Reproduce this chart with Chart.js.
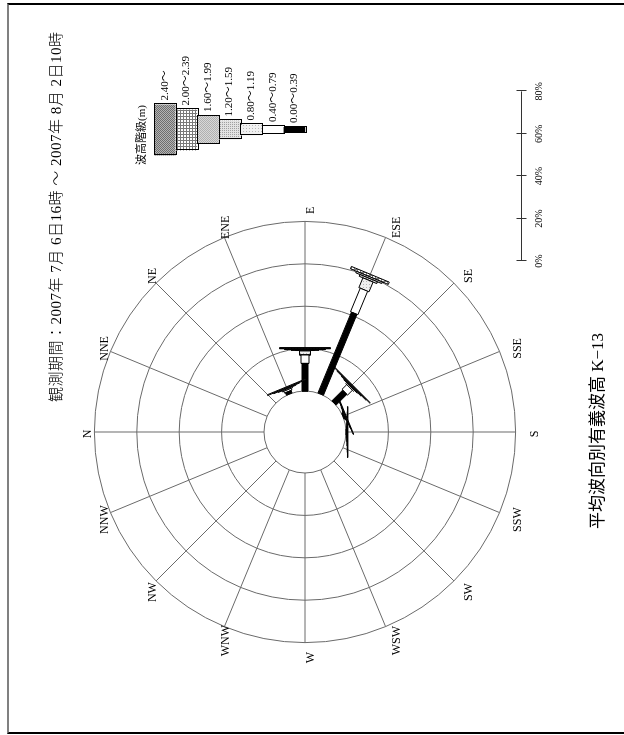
<!DOCTYPE html>
<html>
<head>
<meta charset="utf-8">
<script src="https://cdn.jsdelivr.net/npm/chart.js@4/dist/chart.umd.min.js"></script>
<style>
  html, body { margin: 0; padding: 0; background: #fff; width: 624px; height: 735px; overflow: hidden; }
  #frame { position: absolute; left: 7px; top: 3px; width: 700px; height: 731px; box-sizing: border-box;
           border-top: 2px solid #000; border-bottom: 2px solid #000; border-left: 2px solid #808080; }
  /* the sheet is laid out landscape and turned a quarter turn */
  #sheet { position: absolute; left: 0; top: 0; width: 735px; height: 624px;
           transform-origin: 0 0; transform: translateY(735px) rotate(-90deg); }
  #sheet canvas { position: absolute; left: 0; top: 0; }
  .t { position: absolute; white-space: nowrap; color: #000;
       font-family: "Liberation Serif", "Noto Sans CJK JP", serif; }
  #period { left: 333px; top: 44px; font-size: 15px; font-weight: 300; letter-spacing: 0.5px; }
  #caption { left: 0; width: 608px; text-align: center; top: 583px; font-size: 17px; }
</style>
</head>
<body>
<div id="frame"></div>
<div id="sheet">
  <canvas id="rose" width="735" height="624"></canvas>
  <div class="t" id="period">観測期間：2007年 7月 6日16時 ～ 2007年 8月 2日10時</div>
  <div class="t" id="caption">平均波向別有義波高 K−13</div>
</div>
<script>
// wave directions, clockwise from north
const directions = ['N','NNE','NE','ENE','E','ESE','SE','SSE','S','SSW','SW','WSW','W','WNW','NW','NNW'];
// significant wave height classes (m)
const heightClasses = ['0.00～0.39','0.40～0.79','0.80～1.19','1.20～1.59','1.60～1.99','2.00～2.39','2.40～'];
// occurrence frequency (%) per direction for each height class
const h000_039 = [0, 0, 0, 1.3, 13.0, 41.3, 7.2, 0.4, 0.2, 0, 0, 0, 0, 0, 0, 0];
const h040_079 = [0, 0, 0, 0.9,  4.0, 12.0, 3.2, 0.3, 0.1, 0, 0, 0, 0, 0, 0, 0];
const h080_119 = [0, 0, 0, 0.5,  1.9,  5.0, 0.6, 0.2, 0.1, 0, 0, 0, 0, 0, 0, 0];
const h120_159 = [0, 0, 0, 0.3,  0.4,  0.9, 0.3, 0.2, 0.1, 0, 0, 0, 0, 0, 0, 0];
const h160_199 = [0, 0, 0, 0.3,  0.3,  0.8, 0.3, 0.1, 0.1, 0, 0, 0, 0, 0, 0, 0];
const h200_239 = [0, 0, 0, 0.4,  0.4,  1.2, 0.3, 0.3, 0.1, 0, 0, 0, 0, 0, 0, 0];
const h240_up  = [0, 0, 0, 0,    0.5,  0,   0.3, 0,   0.2, 0, 0, 0, 0, 0, 0, 0];
// percentage rings / scale ticks
const percentTicks = [0, 20, 40, 60, 80];

const classSeries = [h000_039, h040_079, h080_119, h120_159, h160_199, h200_239, h240_up];

// drawing style
const PX = 2.12;            // pixels per percent
const INNER = 41 / PX;      // radius of the calm circle, in percent units
const CENTER = { x: 303, y: 305 };
const W = 735, H = 624;
const classWidthPx = [6, 8, 11, 19, 28, 41, 51];

function pattern(bg, paint, size) {
  const c = document.createElement('canvas');
  c.width = c.height = size;
  const g = c.getContext('2d');
  g.fillStyle = bg; g.fillRect(0, 0, size, size);
  paint(g);
  return g.createPattern(c, 'repeat');
}
const classFill = [
  '#000000',
  '#ffffff',
  pattern('#f0f0f0', g => { g.fillStyle = '#b8b8b8'; g.fillRect(0, 0, 1, 1); }, 3),
  pattern('#e2e2e2', g => { g.fillStyle = '#a0a0a0'; g.fillRect(0, 0, 1, 1); }, 2),
  pattern('#d8d8d8', g => { g.fillStyle = '#b0b0b0'; g.fillRect(0, 0, 1, 1); g.fillRect(1, 1, 1, 1); }, 2),
  pattern('#ffffff', g => { g.fillStyle = '#7a7a7a'; g.fillRect(0, 0, 3, 1); g.fillRect(0, 0, 1, 3); }, 3),
  pattern('#b4b4b4', g => { g.fillStyle = '#6e6e6e'; g.fillRect(0, 0, 1, 1); g.fillRect(1, 1, 1, 1); }, 2)
];

// one closed rectangle per direction and height class, stacked outward from the calm circle
const datasets = [];
directions.forEach((dir, i) => {
  const a = i * Math.PI / 8;
  const ox = Math.sin(a), oy = Math.cos(a);     // outward
  const qx = Math.cos(a), qy = -Math.sin(a);    // across
  let r = INNER;
  classSeries.forEach((series, k) => {
    const v = series[i];
    if (!v) return;
    const hw = classWidthPx[k] / 2 / PX;
    const r1 = r, r2 = r + v;
    const corners = [[r1, hw], [r2, hw], [r2, -hw], [r1, -hw], [r1, hw]];
    datasets.push({
      label: dir + ' ' + heightClasses[k],
      data: corners.map(([rr, ww]) => ({ x: rr * ox + ww * qx, y: rr * oy + ww * qy })),
      showLine: true,
      fill: 'shape',
      backgroundColor: classFill[k],
      borderColor: '#000',
      borderWidth: 1,
      borderJoinStyle: 'miter',
      pointRadius: 0,
      tension: 0
    });
    r = r2;
  });
});

const FONT = '"Liberation Serif", "Noto Sans CJK JP", serif';

const roseGrid = {
  id: 'roseGrid',
  beforeDatasetsDraw(chart) {
    const { ctx, scales: { x, y } } = chart;
    const cx = x.getPixelForValue(0), cy = y.getPixelForValue(0);
    const ppu = x.getPixelForValue(1) - cx;
    const rIn = INNER * ppu;
    const rOut = (INNER + percentTicks[percentTicks.length - 1]) * ppu;
    ctx.save();
    ctx.strokeStyle = '#6a6a6a';
    ctx.lineWidth = 1;
    percentTicks.forEach(t => {
      ctx.beginPath();
      ctx.arc(cx, cy, (INNER + t) * ppu, 0, Math.PI * 2);
      ctx.stroke();
    });
    directions.forEach((d, i) => {
      const a = i * Math.PI / 8;
      const sx = Math.sin(a), sy = -Math.cos(a);
      ctx.beginPath();
      ctx.moveTo(cx + sx * rIn, cy + sy * rIn);
      ctx.lineTo(cx + sx * rOut, cy + sy * rOut);
      ctx.stroke();
    });
    ctx.restore();
  },
  afterDraw(chart) {
    const { ctx, scales: { x, y } } = chart;
    const cx = x.getPixelForValue(0), cy = y.getPixelForValue(0);
    const ppu = x.getPixelForValue(1) - cx;
    const rOut = (INNER + percentTicks[percentTicks.length - 1]) * ppu;
    ctx.save();
    ctx.fillStyle = '#000';
    ctx.font = '12px ' + FONT;
    ctx.textAlign = 'center';
    ctx.textBaseline = 'top';
    directions.forEach((d, i) => {
      const a = i * Math.PI / 8;
      const rl = rOut + 13;
      ctx.fillText(d, cx + Math.sin(a) * rl - 2, cy - Math.cos(a) * rl);
    });

    // percentage scale bar
    const sx0 = 474, sy = 521.5;
    const maxT = percentTicks[percentTicks.length - 1];
    ctx.textBaseline = 'middle';
    ctx.strokeStyle = '#333';
    ctx.lineWidth = 1;
    ctx.beginPath();
    ctx.moveTo(sx0, sy); ctx.lineTo(sx0 + maxT * ppu, sy);
    percentTicks.forEach(t => {
      const px = Math.round(sx0 + t * ppu) + 0.5;
      ctx.moveTo(px, sy - 5); ctx.lineTo(px, sy + 5);
    });
    ctx.stroke();
    ctx.font = '10px ' + FONT;
    percentTicks.forEach(t => ctx.fillText(t + '%', sx0 + t * ppu, sy + 18));

    // height class key
    const kx = 605, ky = 154, seg = 21.6;
    ctx.textAlign = 'left';
    ctx.font = '11px ' + FONT;
    ctx.fillText('波高階級(m)', 570, 142);
    ctx.font = '11px ' + FONT;
    for (let k = heightClasses.length - 1; k >= 0; k--) {
      const top = ky + (heightClasses.length - 1 - k) * seg;
      const w = classWidthPx[k];
      ctx.fillStyle = classFill[k];
      ctx.fillRect(kx - w / 2, top, w, seg);
      ctx.strokeStyle = '#000';
      ctx.strokeRect(Math.round(kx - w / 2) + 0.5, Math.round(top) + 0.5, Math.round(w), Math.round(seg));
      ctx.fillStyle = '#000';
      ctx.fillText(heightClasses[k], kx + w / 2 + 4, top + seg / 2);
    }
    ctx.restore();
  }
};

new Chart(document.getElementById('rose'), {
  type: 'line',
  data: { datasets },
  options: {
    responsive: false,
    animation: false,
    events: [],
    layout: { padding: 0 },
    plugins: { legend: { display: false }, tooltip: { enabled: false }, title: { display: false } },
    scales: {
      x: { type: 'linear', display: false, min: -CENTER.x / PX, max: (W - CENTER.x) / PX },
      y: { type: 'linear', display: false, min: -(H - CENTER.y) / PX, max: CENTER.y / PX }
    }
  },
  plugins: [roseGrid]
});
</script>
</body>
</html>
